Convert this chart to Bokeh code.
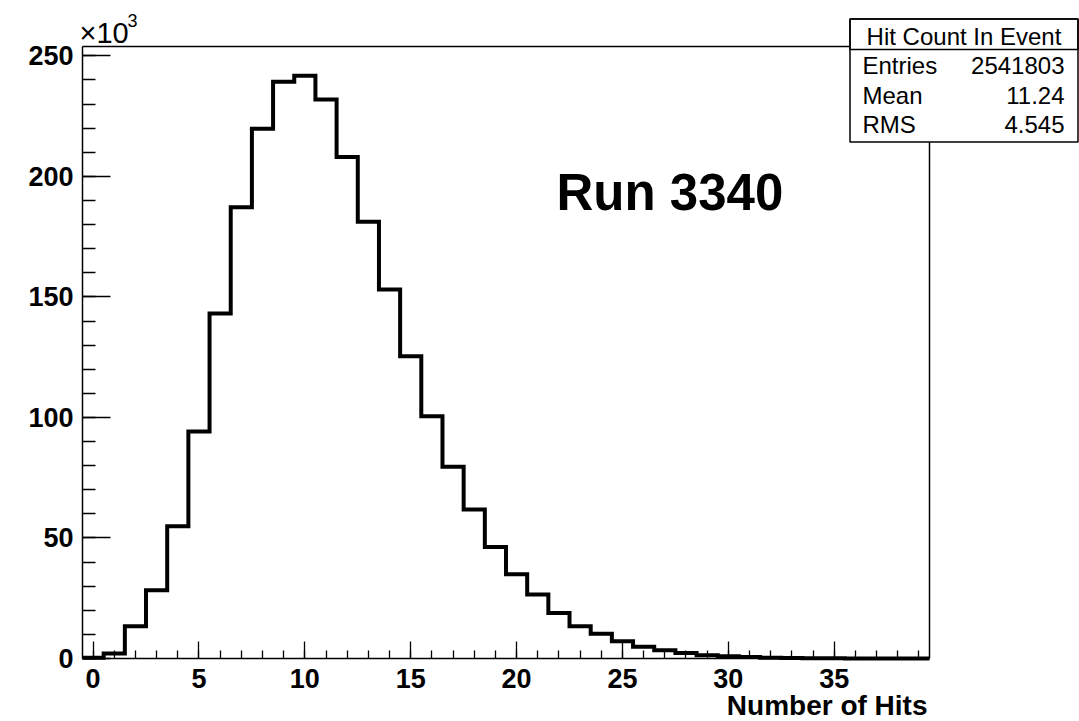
import numpy as np
from bokeh.plotting import figure
from bokeh.models import (FixedTicker, CustomJSTickFormatter, Label, BoxAnnotation,
                          ColumnDataSource, LinearAxis)
from bokeh.embed import file_html
from bokeh.resources import INLINE

# Hit multiplicity histogram: one bin per number of hits (0..39)
hits = list(range(40))
counts = [350, 2100, 13400, 28300, 54900, 94200, 143100, 187200, 219800, 239300,
          241800, 231900, 208100, 181200, 153100, 125400, 100500, 79500, 61800, 46300,
          35000, 26600, 18900, 13400, 10300, 7200, 4900, 3400, 2300, 1400,
          900, 600, 350, 200, 120, 70, 40, 25, 15, 8]

x_major = [0, 5, 10, 15, 20, 25, 30, 35]
y_major = [0, 50000, 100000, 150000, 200000, 250000]

stat_title = "Hit Count In Event"
stat_names = ["Entries", "Mean", "RMS"]
stat_values = ["2541803", "11.24", "4.545"]
run_label = "Run 3340"
x_title = "Number of Hits"

FONT = "Liberation Sans"

W, H = 1079, 721
# pixel box of the histogram pad inside the canvas
PAD_L, PAD_T, PAD_W, PAD_H = 82, 46, 847, 612
PAD_B = PAD_T + PAD_H
X0, X1 = -0.5, 39.5
Y0, Y1 = 0, 1.05 * max(counts)


def fx(px):
    return X0 + (px - PAD_L) * (X1 - X0) / PAD_W


def fy(py):
    return Y0 + (PAD_B - py) * (Y1 - Y0) / PAD_H


# the plotting frame spans the whole canvas; the pad is drawn with
# fixed-location axes so the statistics box can sit over its corner
p = figure(width=W, height=H, output_backend="svg", toolbar_location=None,
           x_range=(fx(0), fx(W)), y_range=(fy(H), fy(0)),
           x_axis_location=None, y_axis_location=None,
           min_border=0, min_border_left=0, min_border_right=0,
           min_border_top=0, min_border_bottom=0)
p.background_fill_color = "white"
p.border_fill_color = "white"
p.outline_line_color = None
p.xgrid.visible = False
p.ygrid.visible = False

# histogram outline drawn as steps over the bin edges
edges = [h - 0.5 for h in hits] + [hits[-1] + 0.5]
src = ColumnDataSource(dict(x=edges, y=counts + [counts[-1]]))
p.step("x", "y", source=src, mode="after", line_color="black", line_width=4,
       line_join="miter")


def style_axis(ax):
    ax.axis_line_color = "black"
    ax.axis_line_width = 1.5
    ax.major_tick_line_color = "black"
    ax.minor_tick_line_color = "black"
    ax.major_tick_line_width = 1.3
    ax.minor_tick_line_width = 1.3
    ax.major_tick_out = 0
    ax.minor_tick_out = 0
    ax.major_label_text_font = FONT
    ax.major_label_text_font_style = "bold"
    ax.major_label_text_font_size = "27px"
    ax.major_label_text_color = "black"


xaxis = LinearAxis(fixed_location=Y0, bounds=(X0, X1),
                   ticker=FixedTicker(ticks=x_major, minor_ticks=list(range(0, 40))))
style_axis(xaxis)
xaxis.major_tick_in = 17
xaxis.minor_tick_in = 8
xaxis.major_label_standoff = 10
p.add_layout(xaxis, "below")

yaxis = LinearAxis(fixed_location=X0, bounds=(Y0, Y1),
                   ticker=FixedTicker(ticks=y_major,
                                      minor_ticks=list(range(0, 254001, 10000))),
                   formatter=CustomJSTickFormatter(code="return (tick / 1000).toFixed(0);"))
style_axis(yaxis)
yaxis.major_tick_in = 28
yaxis.minor_tick_in = 13
yaxis.major_label_standoff = 9
p.add_layout(yaxis, "left")

# top and right edges of the pad
top_edge = LinearAxis(fixed_location=Y1, bounds=(X0, X1), ticker=FixedTicker(ticks=[]))
right_edge = LinearAxis(fixed_location=X1, bounds=(Y0, Y1), ticker=FixedTicker(ticks=[]))
for ax in (top_edge, right_edge):
    style_axis(ax)
    ax.major_tick_in = 0
    ax.minor_tick_in = 0
p.add_layout(top_edge, "above")
p.add_layout(right_edge, "right")


def add_text(text, px, py, size, align="left", style="normal"):
    p.add_layout(Label(x=fx(px), y=fy(py), text=text, text_font=FONT,
                       text_font_size=size, text_font_style=style,
                       text_align=align, text_baseline="middle",
                       text_color="black", level="overlay"))


# axis exponent and title
add_text("\u00d710", 79, 32, "29px")
add_text("3", 127, 20, "18px")
add_text(x_title, 927, 705, "28px", align="right", style="bold")

# run number
add_text(run_label, 556, 191.5, "51px", style="bold")

# statistics box
bl, br, bt, bb = 849.5, 1077.5, 18.5, 141.5
p.add_layout(BoxAnnotation(left=fx(bl), right=fx(br), top=fy(bt), bottom=fy(bb),
                           fill_color="white", fill_alpha=1.0,
                           line_color="black", line_width=1.5, line_alpha=1.0,
                           level="overlay"))
p.add_layout(BoxAnnotation(left=fx(bl), right=fx(br), top=fy(bt), bottom=fy(49),
                           fill_alpha=0.0, line_color="black", line_width=1.5,
                           line_alpha=1.0, level="overlay"))
add_text(stat_title, (bl + br) / 2, 36, "24px", align="center")
for i, (name, val) in enumerate(zip(stat_names, stat_values)):
    mid = 65 + i * 29.5
    add_text(name, 862, mid, "24px")
    add_text(val, 1064, mid, "24px", align="right")

open("out.html", "w").write(file_html(p, INLINE))
